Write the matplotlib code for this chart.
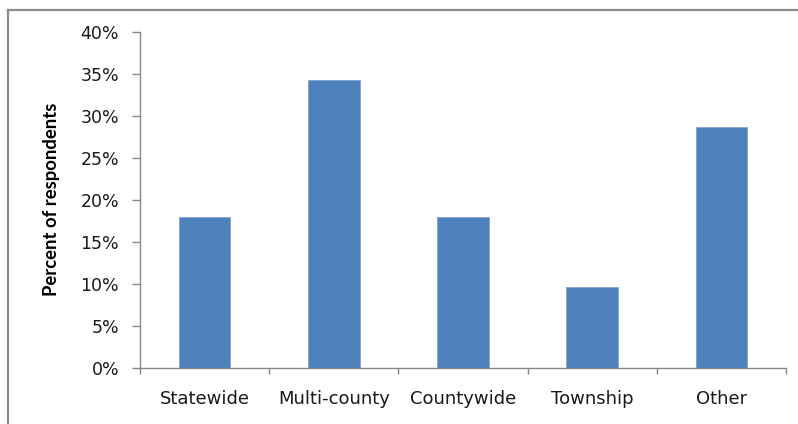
import matplotlib
matplotlib.use("Agg")
import matplotlib.pyplot as plt
from matplotlib.ticker import FuncFormatter, FixedLocator
from matplotlib.lines import Line2D

categories = ["Statewide", "Multi-county", "Countywide", "Township", "Other"]
percent = [17.9, 34.2, 17.9, 9.6, 28.7]
y_ticks = [0, 5, 10, 15, 20, 25, 30, 35, 40]

bar_color = "#4F81BD"
axis_color = "#878787"
text_color = "#1a1a1a"

fig = plt.figure(figsize=(7.98, 4.24), dpi=100)
ax = fig.add_axes([140 / 798, 1 - 367.7 / 424, (786 - 140) / 798, (367.7 - 31.7) / 424])

x = list(range(len(categories)))
ax.bar(x, percent, width=0.4, color=bar_color, edgecolor="#7FA3D0", linewidth=0.6, zorder=2)

ax.set_xlim(-0.5, len(categories) - 0.5)
ax.set_ylim(0, 40)

ax.yaxis.set_major_locator(FixedLocator(y_ticks))
ax.yaxis.set_major_formatter(FuncFormatter(lambda v, _: f"{v:.0f}%"))

# category labels centred between boundary ticks
ax.set_xticks([i - 0.5 for i in range(len(categories) + 1)])
ax.set_xticklabels([])
ax.set_xticks(x, minor=True)
ax.set_xticklabels(categories, minor=True)

for side in ("top", "right"):
    ax.spines[side].set_visible(False)
for side in ("left", "bottom"):
    ax.spines[side].set_color(axis_color)
    ax.spines[side].set_linewidth(1.0)

ax.tick_params(axis="y", which="major", direction="out", length=6, width=1.0,
               color=axis_color, pad=9, labelsize=12.5, labelcolor=text_color)
ax.tick_params(axis="x", which="major", direction="out", length=4, width=1.0,
               color=axis_color)
ax.tick_params(axis="x", which="minor", length=0, pad=16, labelsize=13,
               labelcolor=text_color)
for lbl in ax.get_yticklabels() + ax.get_xticklabels(minor=True):
    lbl.set_fontfamily("DejaVu Sans")

ax.set_ylabel("Percent of respondents", fontsize=13.3, fontweight="bold",
              fontfamily="Lato", color="black", labelpad=15)

# chart frame (top and left edges)
fig.add_artist(Line2D([8 / 798, 8 / 798], [0, 1 - 10 / 424], transform=fig.transFigure,
                      color="#8a8a8a", linewidth=1.6))
fig.add_artist(Line2D([8 / 798, 1], [1 - 10 / 424, 1 - 10 / 424], transform=fig.transFigure,
                      color="#8a8a8a", linewidth=1.6))

fig.savefig("out.png", dpi=100, facecolor="white")
